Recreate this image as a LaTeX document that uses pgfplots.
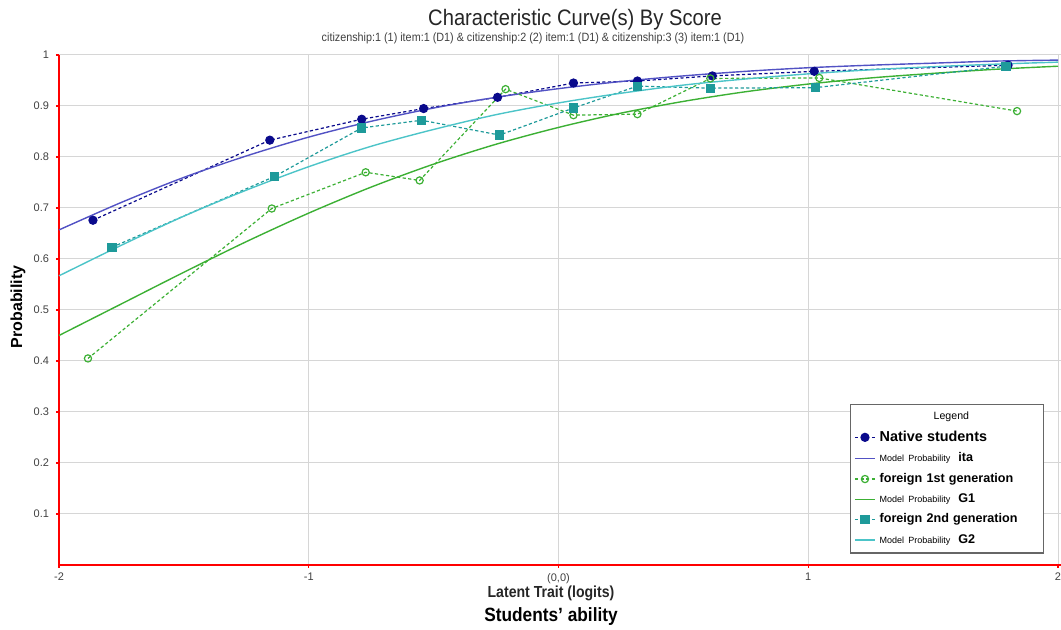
\documentclass[border=0pt]{standalone}
\usepackage{fontspec}
\setmainfont{Liberation Sans}
\usepackage{graphicx}
\usepackage{pgfplots}
\pgfplotsset{compat=1.18}
\definecolor{navyd}{HTML}{0A0A8C}
\definecolor{bluel}{HTML}{5252C4}
\definecolor{teald}{HTML}{1E9A9A}
\definecolor{tealm}{HTML}{4CC4C8}
\definecolor{greenl}{HTML}{3CB034}
\begin{document}
\begin{tikzpicture}[x=0.5pt,y=0.5pt]
\useasboundingbox (-59,-65) rectangle (1002,565);
\begin{axis}[at={(0,0)}, anchor=south west, width=501pt, height=255pt, scale only axis,
  xmin=-2, xmax=2.012, ymin=0, ymax=1,
  xtick={-2,-1,0,1,2}, xticklabels={-2,-1,{(0,0)},1,2},
  ytick={0.1,0.2,0.3,0.4,0.5,0.6,0.7,0.8,0.9,1},
  yticklabels={0.1,0.2,0.3,0.4,0.5,0.6,0.7,0.8,0.9,1},
  grid=major, grid style={black!16, line width=0.5pt},
  axis x line*=bottom, axis y line*=left,
  axis line style={red, line width=1pt, -},
  tick style={red, line width=0.6pt}, tick align=outside, major tick length=1.5pt,
  tick label style={font=\fontsize{5.5}{6}\selectfont, text=black!75},
  xticklabel style={yshift=1pt},
  clip=false,
  legend style={at={(0.789,0.316)}, anchor=north west, draw=black!60, line width=0.7pt,
    fill=white, font=\fontsize{6.3}{7}\selectfont\bfseries, row sep=0.2pt,
    inner xsep=2pt, inner ysep=1.5pt,
    cells={anchor=west, align=left, text width=78pt}},
  legend image code/.code={\draw[mark repeat=2,mark phase=2,#1] plot coordinates {(0pt,0pt) (5pt,0pt) (10pt,0pt)};},
  mydash/.style={dash pattern=on 1.6pt off 1.2pt},
]
\addlegendimage{empty legend}
\addlegendentry{\hspace{27pt}{\fontsize{5.3}{6}\selectfont\mdseries Legend}}
% Native students observed
\addplot[navyd, mydash, line width=0.6pt, mark=*, mark size=2pt, mark options={solid, fill=navyd}] coordinates {
(-1.864,0.676) (-1.156,0.833) (-0.788,0.874) (-0.540,0.895) (-0.244,0.917)
(0.060,0.945) (0.316,0.949) (0.616,0.959) (1.024,0.968) (1.800,0.980)};
\addlegendentry{{\fontsize{7.2}{8}\selectfont Native students}}
% Model ita
\addplot[bluel, line width=0.7pt, smooth] coordinates {
(-2,0.657) (-1.75,0.711) (-1.5,0.760) (-1.25,0.802) (-1,0.839) (-0.75,0.870)
(-0.5,0.896) (-0.25,0.917) (0,0.934) (0.25,0.948) (0.5,0.959) (0.75,0.968)
(1,0.975) (1.25,0.980) (1.5,0.984) (1.75,0.988) (2,0.990)};
\addlegendentry{{\fontsize{4.5}{5}\selectfont\mdseries Model Probability}\hspace{4pt}ita}
% foreign 1st generation observed
\addplot[greenl, mydash, line width=0.6pt, mark=o, mark size=1.8pt, mark options={solid, fill=white}] coordinates {
(-1.884,0.405) (-1.148,0.699) (-0.772,0.770) (-0.556,0.754) (-0.212,0.933)
(0.060,0.882) (0.316,0.884) (0.608,0.954) (1.044,0.955) (1.836,0.890)};
\addlegendentry{foreign 1st generation}
% Model G1
\addplot[greenl, line width=0.7pt, smooth] coordinates {
(-2,0.450) (-1.75,0.512) (-1.5,0.574) (-1.25,0.634) (-1,0.690) (-0.75,0.741)
(-0.5,0.786) (-0.25,0.825) (0,0.858) (0.25,0.886) (0.5,0.909) (0.75,0.928)
(1,0.943) (1.25,0.955) (1.5,0.964) (1.75,0.972) (2,0.978)};
\addlegendentry{{\fontsize{4.5}{5}\selectfont\mdseries Model Probability}\hspace{4pt}G1}
% foreign 2nd generation observed
\addplot[teald, mydash, line width=0.6pt, mark=square*, mark size=2pt, mark options={solid, fill=teald}] coordinates {
(-1.788,0.623) (-1.136,0.762) (-0.788,0.857) (-0.548,0.872) (-0.236,0.843)
(0.060,0.896) (0.316,0.939) (0.608,0.935) (1.028,0.936) (1.792,0.978)};
\addlegendentry{foreign 2nd generation}
% Model G2
\addplot[tealm, line width=0.7pt, smooth] coordinates {
(-2,0.567) (-1.75,0.627) (-1.5,0.684) (-1.25,0.735) (-1,0.781) (-0.75,0.821)
(-0.5,0.854) (-0.25,0.883) (0,0.906) (0.25,0.925) (0.5,0.941) (0.75,0.953)
(1,0.963) (1.25,0.971) (1.5,0.977) (1.75,0.982) (2,0.986)};
\addlegendentry{{\fontsize{4.5}{5}\selectfont\mdseries Model Probability}\hspace{4pt}G2}
\end{axis}
\node[font=\fontsize{11.2}{13}\selectfont, text=black!85] at (516,545) {\scalebox{0.9}[1]{Characteristic Curve(s) By Score}};
\node[font=\fontsize{6}{7}\selectfont, text=black!75] at (474,527) {\scalebox{0.9}[1]{citizenship:1 (1) item:1 (D1) \& citizenship:2 (2) item:1 (D1) \& citizenship:3 (3) item:1 (D1)}};
\node[font=\fontsize{8}{9}\selectfont\bfseries, text=black!85] at (492,-28) {\scalebox{0.88}[1]{Latent Trait (logits)}};
\node[font=\fontsize{9.6}{11}\selectfont\bfseries, text=black] at (492,-52) {\scalebox{0.9}[1]{Students' ability}};
\node[font=\fontsize{8}{9}\selectfont\bfseries, text=black, rotate=90] at (-41,258) {Probability};
\end{tikzpicture}
\end{document}
